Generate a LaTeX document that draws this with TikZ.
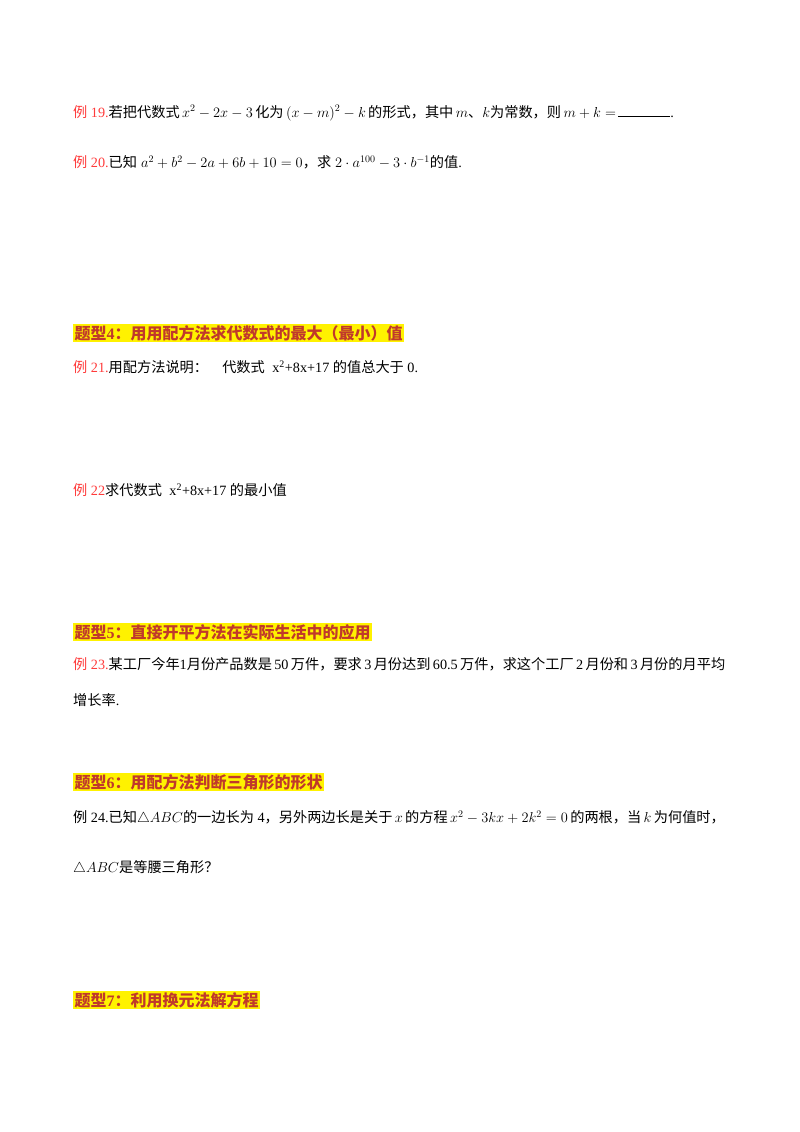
\documentclass[tikz,border=0pt]{standalone}
\usepackage{fontspec}
\setmainfont{Liberation Serif}
\newfontfamily\cjk{Noto Sans CJK SC}
\definecolor{exred}{HTML}{FF3B3B}
\definecolor{hd}{HTML}{C0392B}
\begin{document}
\begin{tikzpicture}[x=1pt,y=-1pt,
  txt/.style={anchor=west,inner sep=0pt,font=\fontsize{14.2}{17}\selectfont},
  head/.style={anchor=west,inner sep=1.5pt,fill=yellow,text=hd,font=\fontsize{16}{19}\selectfont\cjk\bfseries}]
\useasboundingbox (0,0) rectangle (800,1132);
\node[txt] (e19) at (73,113) {\textcolor{exred}{{\cjk 例} 19.}{\cjk 若把代数式}\,$x^2-2x-3$\,{\cjk 化为}\,$(x-m)^2-k$\,{\cjk 的形式，其中}\,$m${\cjk 、}$k${\cjk 为常数，则}\,$m+k=$\,\rule{52pt}{0.8pt}.};
\node[txt] (e20) at (73,162) {\textcolor{exred}{{\cjk 例} 20.}{\cjk 已知}$\;a^2+b^2-2a+6b+10=0${\cjk ，求}$\;2\cdot a^{100}-3\cdot b^{-1}${\cjk 的值}.};
\node[head] (h4) at (73,333) {题型{\rmfamily\bfseries 4}：用用配方法求代数式的最大（最小）值};
\node[txt] (e21) at (73,367) {\textcolor{exred}{{\cjk 例} 21.}{\cjk 用配方法说明：\quad 代数式}\; x\textsuperscript{2}+8x+17 {\cjk 的值总大于} 0.};
\node[txt] (e22) at (73,490) {\textcolor{exred}{{\cjk 例} 22}{\cjk 求代数式}\; x\textsuperscript{2}+8x+17 {\cjk 的最小值}};
\node[head] (h5) at (73,632) {题型{\rmfamily\bfseries 5}：直接开平方法在实际生活中的应用};
\node[txt] (e23) at (73,664) {\textcolor{exred}{{\cjk 例} 23.}{\cjk 某工厂今年}1{\cjk 月份产品数是}\,50\,{\cjk 万件，要求}\,3\,{\cjk 月份达到}\,60.5\,{\cjk 万件，求这个工厂}\,2\,{\cjk 月份和}\,3\,{\cjk 月份的月平均}};
\node[txt] (e23b) at (73,700) {{\cjk 增长率}.};
\node[head] (h6) at (73,782) {题型{\rmfamily\bfseries 6}：用配方法判断三角形的形状};
\node[txt] (e24) at (73,818) {{\cjk 例} 24.{\cjk 已知}$\triangle ABC${\cjk 的一边长为} 4{\cjk ，另外两边长是关于}\,$x$\,{\cjk 的方程}\,$x^2-3kx+2k^2=0$\,{\cjk 的两根，当}\,$k$\,{\cjk 为何值时，}};
\node[txt] (e24b) at (73,868) {$\triangle ABC${\cjk 是等腰三角形？}};
\node[head] (h7) at (73,1000) {题型{\rmfamily\bfseries 7}：利用换元法解方程};
\end{tikzpicture}
\end{document}
